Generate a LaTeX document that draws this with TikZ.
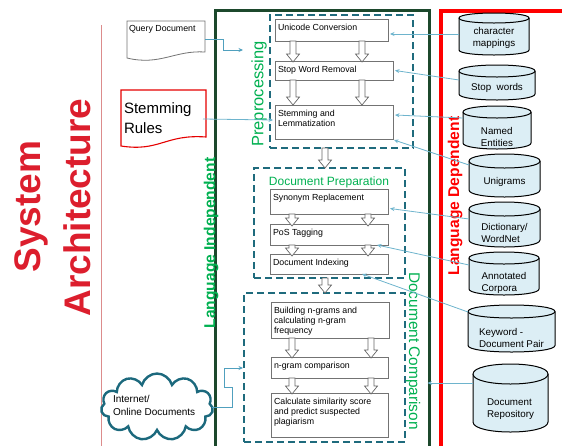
\documentclass[tikz,border=0pt]{standalone}
\usepackage{fontspec}
\setmainfont{Liberation Sans}
\usetikzlibrary{arrows.meta,calc,shapes.symbols}
\definecolor{titlered}{RGB}{220,30,45}
\definecolor{framegreen}{RGB}{28,72,44}
\definecolor{txtgreen}{RGB}{0,176,80}
\definecolor{dashc}{RGB}{31,107,125}
\definecolor{connc}{RGB}{110,180,205}
\definecolor{conn2c}{RGB}{80,160,190}
\definecolor{cylfill}{RGB}{220,238,245}
\definecolor{boxgray}{RGB}{115,115,115}
\definecolor{sepc}{RGB}{220,140,140}
\definecolor{cloudc}{RGB}{28,105,125}
\newcommand\myfs[2]{\fontsize{#1}{#2}\selectfont}
\newcommand\pbox[6]{%
  \node[pboxs, anchor=north west, minimum width={#4-#2}, minimum height={#5-#3}] (#1) at (#2,#3) {};
  \node[ptext, anchor=north west, align=left] at ($(#1.north west)+(3,5)$) {#6};
}
\newcommand\barr[3]{%
  \draw[barrows] ({#1-3},#2) -- ({#1-3},{#3-8}) -- ({#1-6.5},{#3-8}) -- (#1,#3) -- ({#1+6.5},{#3-8}) -- ({#1+3},{#3-8}) -- ({#1+3},#2) -- cycle;}
\newcommand\cyl[9]{%
  \filldraw[cyls] (#2,{#3+#6}) -- (#2,{#5-#6}) .. controls (#2,{#5+#6/3}) and (#4,{#5+#6/3}) .. (#4,{#5-#6}) -- (#4,{#3+#6}) .. controls (#4,{#3-#6/3}) and (#2,{#3-#6/3}) .. cycle;
  \draw[cyls] (#2,{#3+#6}) .. controls (#2,{#3+#6*7/3}) and (#4,{#3+#6*7/3}) .. (#4,{#3+#6});
  \node[cyltext, align=#8, minimum width={#4-#2}] (#1) at ({(#2+#4)/2},#7) {#9};
}
\begin{document}
\begin{tikzpicture}[x=1pt,y=-1pt,
  every node/.style={outer sep=0pt},
  pboxs/.style={draw=boxgray, fill=white, line width=0.8pt},
  ptext/.style={inner sep=0pt, font=\myfs{8.8}{10}},
  barrows/.style={draw=boxgray!90!black, fill=white, line width=0.7pt},
  cyls/.style={draw=black, fill=cylfill, line width=1pt},
  cyltext/.style={inner sep=0pt, font=\myfs{9.8}{12.5}},
  dbox/.style={draw=dashc, line width=2.8pt, dash pattern=on 7pt off 4pt, anchor=north west},
  conn/.style={draw=connc, line width=0.8pt, -{Stealth[length=4.5pt,width=4pt]}},
  conn2/.style={draw=conn2c, line width=0.8pt, -{Stealth[length=4.5pt,width=4pt]}},
  glbl/.style={text=txtgreen, inner sep=0pt},
  titles/.style={text=titlered, inner sep=0pt, font=\bfseries\myfs{37}{40}}
]
\useasboundingbox (0,0) rectangle (562,445);

% separator line
\draw[draw=sepc, line width=1pt] (101,25) -- (101,447);

% frames
\node[draw=framegreen, line width=3pt, anchor=north west, minimum width=214, minimum height=450] (li) at (215.5,10) {};
\node[draw=red, line width=4pt, anchor=north west, minimum width=130, minimum height=450] (ld) at (440.5,11) {};

% dashed group boxes
\node[dbox, minimum width=143, minimum height=133] (pre) at (270,15) {};
\node[dbox, minimum width=151, minimum height=110] (dp) at (254,168) {};
\node[dbox, minimum width=161, minimum height=149] (dc) at (244,293) {};

% group labels
\node[glbl, rotate=90, font=\myfs{16.5}{18}] at (259,94) {Preprocessing};
\node[glbl, anchor=base, font=\myfs{12}{14}] at (329,185) {Document Preparation};
\node[glbl, rotate=-90, font=\myfs{15.4}{17}] at (413,351) {Document Comparison};
\node[glbl, rotate=90, font=\bfseries\myfs{15.6}{17}] at (211,243) {Language Independent};
\node[text=red, inner sep=0pt, rotate=90, font=\bfseries\myfs{15.6}{17}] at (455,196) {Language Dependent};

% process boxes
\pbox{uc}{275}{19}{388}{41}{Unicode Conversion}
\pbox{swr}{275}{61}{393}{80}{Stop Word Removal}
\pbox{sl}{275}{105}{393}{139}{Stemming and\\Lemmatization}
\pbox{sr}{270}{189}{388}{214}{Synonym Replacement}
\pbox{pos}{270}{224}{388}{245}{PoS Tagging}
\pbox{di}{270}{254}{388}{274}{Document Indexing}
\pbox{bng}{271}{302}{389}{338}{Building n-grams and\\calculating n-gram\\frequency}
\pbox{ngc}{271}{357}{388}{378}{n-gram comparison}
\pbox{cal}{271}{393}{388}{437}{Calculate similarity score\\and predict suspected\\plagiarism}

% block arrows
\barr{293}{41}{62} \barr{362}{41}{62}
\barr{293}{80}{105} \barr{362}{80}{105}
\barr{325}{148}{168}
\barr{292}{214}{226} \barr{368}{214}{226}
\barr{292}{245}{256} \barr{368}{245}{256}
\barr{325}{278}{293}
\barr{292}{338}{358} \barr{371}{338}{358}
\barr{292}{378}{394} \barr{371}{378}{394}

% cylinders
\cyl{cm}{459}{13}{529}{55}{5}{38}{center}{character\\mappings}
\cyl{sw}{459}{65}{535}{100}{6}{88}{center}{Stop\ \ words}
\cyl{ne}{463}{106}{531}{149}{6}{137}{left}{Named\\Entities}
\cyl{ug}{469}{154}{540}{197}{7}{182}{center}{Unigrams}
\cyl{dw}{469}{202}{540}{247}{7}{233}{left}{Dictionary/\\WordNet}
\cyl{ac}{469}{252}{539}{295}{6}{283}{left}{Annotated\\Corpora}
\cyl{kd}{468}{305}{555}{352}{6.5}{338}{left}{Keyword -\\Document Pair}
\cyl{dr}{473}{364}{548}{432}{10}{409}{left}{Document\\Repository}

% connectors from resources
\draw[conn] ($(cm.west)+(0,-4)$) -- ($(uc.east |- cm.west)+(2,-4)$);
\draw[conn] ($(sw.west)+(0,-8)$) -- ($(swr.east)+(2,0)$);
\draw[conn] ($(ne.west)+(0,-19)$) -- ($(sl.east)+(2,-7)$);
\draw[conn] ($(ug.west)+(0,-17)$) -- ($(sl.south east)+(1,1)$);
\draw[conn] ($(dw.west)+(0,-14)$) -- ($(sr.east)+(2,7)$);
\draw[conn] ($(ac.west)+(0,-18)$) -- ($(pos.south east)+(-11,0)$);
\draw[conn] ($(kd.west)+(0,-26)$) -- ($(di.south)+(33,0)$);
\draw[conn] ($(dr.west)+(0,-26)$) -- ($(li.east |- dr.west)+(-2,-26)$);

% Query document
\node[anchor=north west, minimum width=78, minimum height=37] (qd) at (127,21) {};
\draw[draw=boxgray, fill=white, line width=0.8pt] (127,21) -- (127,58) .. controls (160,66) and (175,50) .. (205,52) -- (205,21) -- cycle;
\node[ptext, anchor=north west] at (129,25) {Query Document};
\coordinate (qin) at (243,50);
\draw[conn2] (qd.east) -| ($(qin)+(-20,0)$) -- (qin);

% Stemming rules
\node[anchor=north west, minimum width=85, minimum height=52] (stem) at (121,90) {};
\draw[draw=red!90!black, fill=white, line width=1.1pt] (121,90) -- (121,146) .. controls (160,152) and (165,134) .. (206,137) -- (206,90) -- cycle;
\node[inner sep=0pt, anchor=north west, align=left, font=\myfs{15}{20}] at (124,103) {Stemming\\Rules};
\draw[conn] ($(stem.east)+(-3,3)$) -- ($(sl.west)+(-2,-2)$);

% Cloud
\node[cloud, draw=cloudc, fill=white, line width=2.4pt, cloud puffs=11, aspect=1.7, minimum width=112, minimum height=67, inner sep=0pt] (cl) at (157,407) {};
\node[inner sep=0pt, anchor=north west, align=left, font=\myfs{10}{13}] at (113,395) {Internet/\\Online Documents};
\coordinate (cin) at (243,368);
\draw[conn2] (cl.east) -- ++(20,0) -- ++(0,-20) -- ++(-8,0) |- (cin);

% Title
\node[titles, rotate=90, anchor=base] at (40,206.5) {System};
\node[titles, rotate=90, anchor=base] at (90,207.5) {Architecture};
\end{tikzpicture}
\end{document}
